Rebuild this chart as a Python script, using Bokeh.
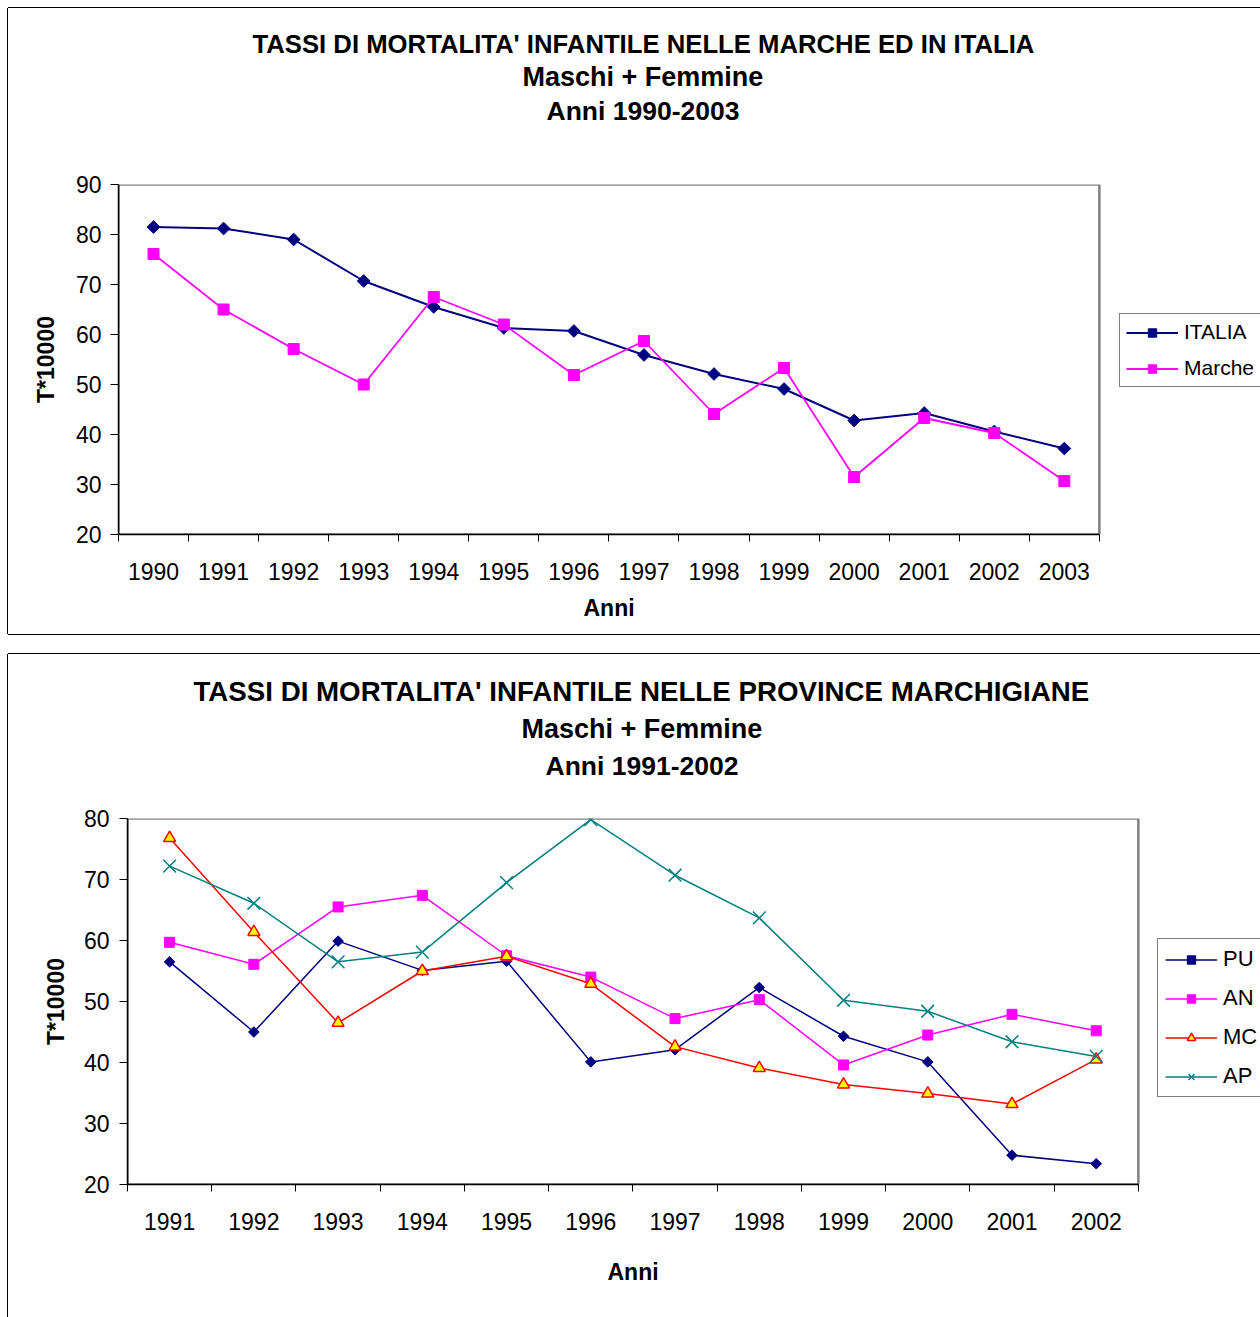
from bokeh.plotting import figure
from bokeh.models import (FixedTicker, Legend, LegendItem, Title, Range1d, NumeralTickFormatter,
                          BoxAnnotation)
from bokeh.layouts import column
from bokeh.embed import file_html
from bokeh.resources import INLINE
import math

FONT = "Liberation Sans"

# ---------------- data ----------------
years_top = [1990, 1991, 1992, 1993, 1994, 1995, 1996, 1997, 1998, 1999, 2000, 2001, 2002, 2003]
italia = [81.5, 81.2, 79.0, 70.7, 65.5, 61.3, 60.7, 55.9, 52.1, 49.1, 42.8, 44.3, 40.6, 37.2]
marche = [76.1, 65.0, 57.1, 50.0, 67.5, 62.0, 51.9, 58.7, 44.1, 53.3, 31.5, 43.3, 40.3, 30.7]

years_bot = [1991, 1992, 1993, 1994, 1995, 1996, 1997, 1998, 1999, 2000, 2001, 2002]
pu = [56.5, 45.0, 59.9, 55.1, 56.6, 40.1, 42.1, 52.3, 44.3, 40.1, 24.8, 23.4]
an = [59.7, 56.1, 65.5, 67.4, 57.5, 54.0, 47.2, 50.3, 39.6, 44.5, 47.9, 45.2]
mc = [76.8, 61.4, 46.5, 55.0, 57.4, 52.9, 42.6, 39.1, 36.4, 34.9, 33.2, 40.5]
ap = [72.2, 66.1, 56.5, 58.1, 69.5, 79.8, 70.7, 63.7, 50.2, 48.4, 43.4, 41.0]

yticks_top = [20, 30, 40, 50, 60, 70, 80, 90]
yticks_bot = [20, 30, 40, 50, 60, 70, 80]

title_top = ["TASSI DI MORTALITA' INFANTILE NELLE MARCHE ED IN ITALIA", "Maschi + Femmine", "Anni 1990-2003"]
title_bot = ["TASSI DI MORTALITA' INFANTILE NELLE PROVINCE MARCHIGIANE", "Maschi + Femmine", "Anni 1991-2002"]
x_label = "Anni"
y_label = "T*10000"


def make_fig(width, height, left, top, bottom, years, yticks, extra_right, shadow,
             xstand, ystand, ylab_stand, xlab_offset, xlab_standoff):
    x0, x1 = years[0] - 0.5, years[-1] + 0.5
    p = figure(width=width, height=height, output_backend="svg", toolbar_location=None,
               x_range=Range1d(x0, x1 + extra_right),
               y_range=Range1d(yticks[0], yticks[-1]),
               min_border_left=left, min_border_right=0,
               min_border_top=top, min_border_bottom=bottom,
               background_fill_color="white", border_fill_color="white",
               frame_align=False, title=None,
               styles={"box-shadow": shadow})
    p.xgrid.visible = False
    p.ygrid.visible = False
    p.outline_line_color = None
    # plot-area border (grey, like the spreadsheet chart)
    p.add_layout(BoxAnnotation(left=x0, right=x1, bottom=yticks[0], top=yticks[-1],
                               fill_alpha=0, line_color="#808080", line_alpha=1.0,
                               line_width=2.5, level="underlay"))

    xa = p.xaxis[0]
    xa.bounds = (x0, x1)
    xa.ticker = FixedTicker(ticks=years, minor_ticks=[y - 0.5 for y in years] + [x1])
    xa.formatter = NumeralTickFormatter(format="0")
    xa.major_tick_out = 0
    xa.major_tick_in = 0
    xa.minor_tick_out = 7
    xa.minor_tick_in = 0
    xa.minor_tick_line_color = "black"
    xa.axis_line_color = "black"
    xa.axis_line_width = 1.5
    xa.major_label_text_font = FONT
    xa.major_label_text_font_size = "23px"
    xa.major_label_text_color = "black"
    xa.major_label_standoff = xstand

    # x-axis title, centred under the plot area (not under the legend)
    p.add_layout(Title(text=x_label, align="left", offset=xlab_offset, vertical_align="middle",
                       standoff=xlab_standoff, text_font=FONT, text_font_style="bold",
                       text_font_size="23px", text_color="black"), "below")

    ya = p.yaxis[0]
    ya.ticker = FixedTicker(ticks=yticks, minor_ticks=[])
    ya.major_tick_out = 8
    ya.major_tick_in = 0
    ya.minor_tick_out = 0
    ya.minor_tick_in = 0
    ya.major_tick_line_color = "black"
    ya.axis_line_color = "black"
    ya.axis_line_width = 1.5
    ya.major_label_text_font = FONT
    ya.major_label_text_font_size = "23px"
    ya.major_label_text_color = "black"
    ya.major_label_standoff = ystand
    ya.axis_label = y_label
    ya.axis_label_text_font = FONT
    ya.axis_label_text_font_style = "bold"
    ya.axis_label_text_font_size = "23px"
    ya.axis_label_text_color = "black"
    ya.axis_label_standoff = ylab_stand
    return p


def add_titles(p, lines, offsets, sizes, standoff, spacer_standoff):
    # spacer between the frame and the title block (added first = nearest the frame)
    p.add_layout(Title(text=" ", align="left", vertical_align="middle", standoff=spacer_standoff,
                       text_font=FONT, text_font_size="26px"), "above")
    for text, off, s in reversed(list(zip(lines, offsets, sizes))):
        p.add_layout(Title(text=text, align="left", offset=off, vertical_align="middle",
                           standoff=standoff, text_font=FONT, text_font_style="bold",
                           text_font_size=s, text_color="black"), "above")


def series(p, xs, ys, color, marker, size, lw, fill=None, angle=0.0, mlw=1.0):
    lr = p.line(xs, ys, line_color=color, line_width=lw)
    mr = p.scatter(xs, ys, marker=marker, size=size, angle=angle,
                   fill_color=fill if fill else color, line_color=color, line_width=mlw)
    return [lr, mr]


def make_legend(items, loc, padding, spacing, fs):
    return Legend(items=items, location=loc, margin=0, padding=padding, spacing=spacing,
                  glyph_width=52, glyph_height=21, label_height=21, label_standoff=6,
                  label_text_font=FONT, label_text_font_size=fs, label_text_color="black",
                  border_line_color="black", border_line_width=1,
                  background_fill_color="white", background_fill_alpha=1.0)


# ---------------- top chart ----------------
# frame spans to the right edge of the canvas; the data area ends at 2003.5
p1 = make_fig(1252, 626, 110, 176, 100, years_top, yticks_top, 2.3,
              "-1px 0 0 0 #000, 0 -1px 0 0 #000, 0 1px 0 0 #000",
              xstand=21, ystand=9, ylab_stand=14, xlab_offset=465, xlab_standoff=23)
r_it = series(p1, years_top, italia, "#000080", "square", 9, 2, angle=math.pi / 4)
r_ma = series(p1, years_top, marche, "#FF00FF", "square", 11, 1.8)
leg1 = make_legend([LegendItem(label="ITALIA", renderers=r_it),
                    LegendItem(label="Marche", renderers=r_ma)], (1001, 147), 6, 12, "21px")
p1.add_layout(leg1)
add_titles(p1, title_top, [134, 404, 428], ["25.7px", "27px", "26.5px"], 2, 25)

# ---------------- bottom chart ----------------
p2 = make_fig(1252, 663, 119, 164, 133, years_bot, yticks_bot, 1.45,
              "-1px 0 0 0 #000, 0 -1px 0 0 #000",
              xstand=21, ystand=10, ylab_stand=12, xlab_offset=480, xlab_standoff=50)
r_pu = series(p2, years_bot, pu, "#000080", "square", 7.5, 1.5, angle=math.pi / 4)
r_an = series(p2, years_bot, an, "#FF00FF", "square", 10, 1.5)
r_mc = series(p2, years_bot, mc, "#FF0000", "triangle", 12, 1.5, fill="#FFFF00", mlw=1.5)
r_ap = series(p2, years_bot, ap, "#008080", "x", 18, 1.5, mlw=1.5)
leg2 = make_legend([LegendItem(label="PU", renderers=r_pu),
                    LegendItem(label="AN", renderers=r_an),
                    LegendItem(label="MC", renderers=r_mc),
                    LegendItem(label="AP", renderers=r_ap)], (1030, 87), 7, 13, "22px")
p2.add_layout(leg2)
add_titles(p2, title_bot, [66, 394, 418], ["27.7px", "27px", "26.5px"], 5, 2)

layout = column(p1, p2, spacing=20, margin=(8, 0, 0, 8))
open("out.html", "w").write(file_html(layout, INLINE))
